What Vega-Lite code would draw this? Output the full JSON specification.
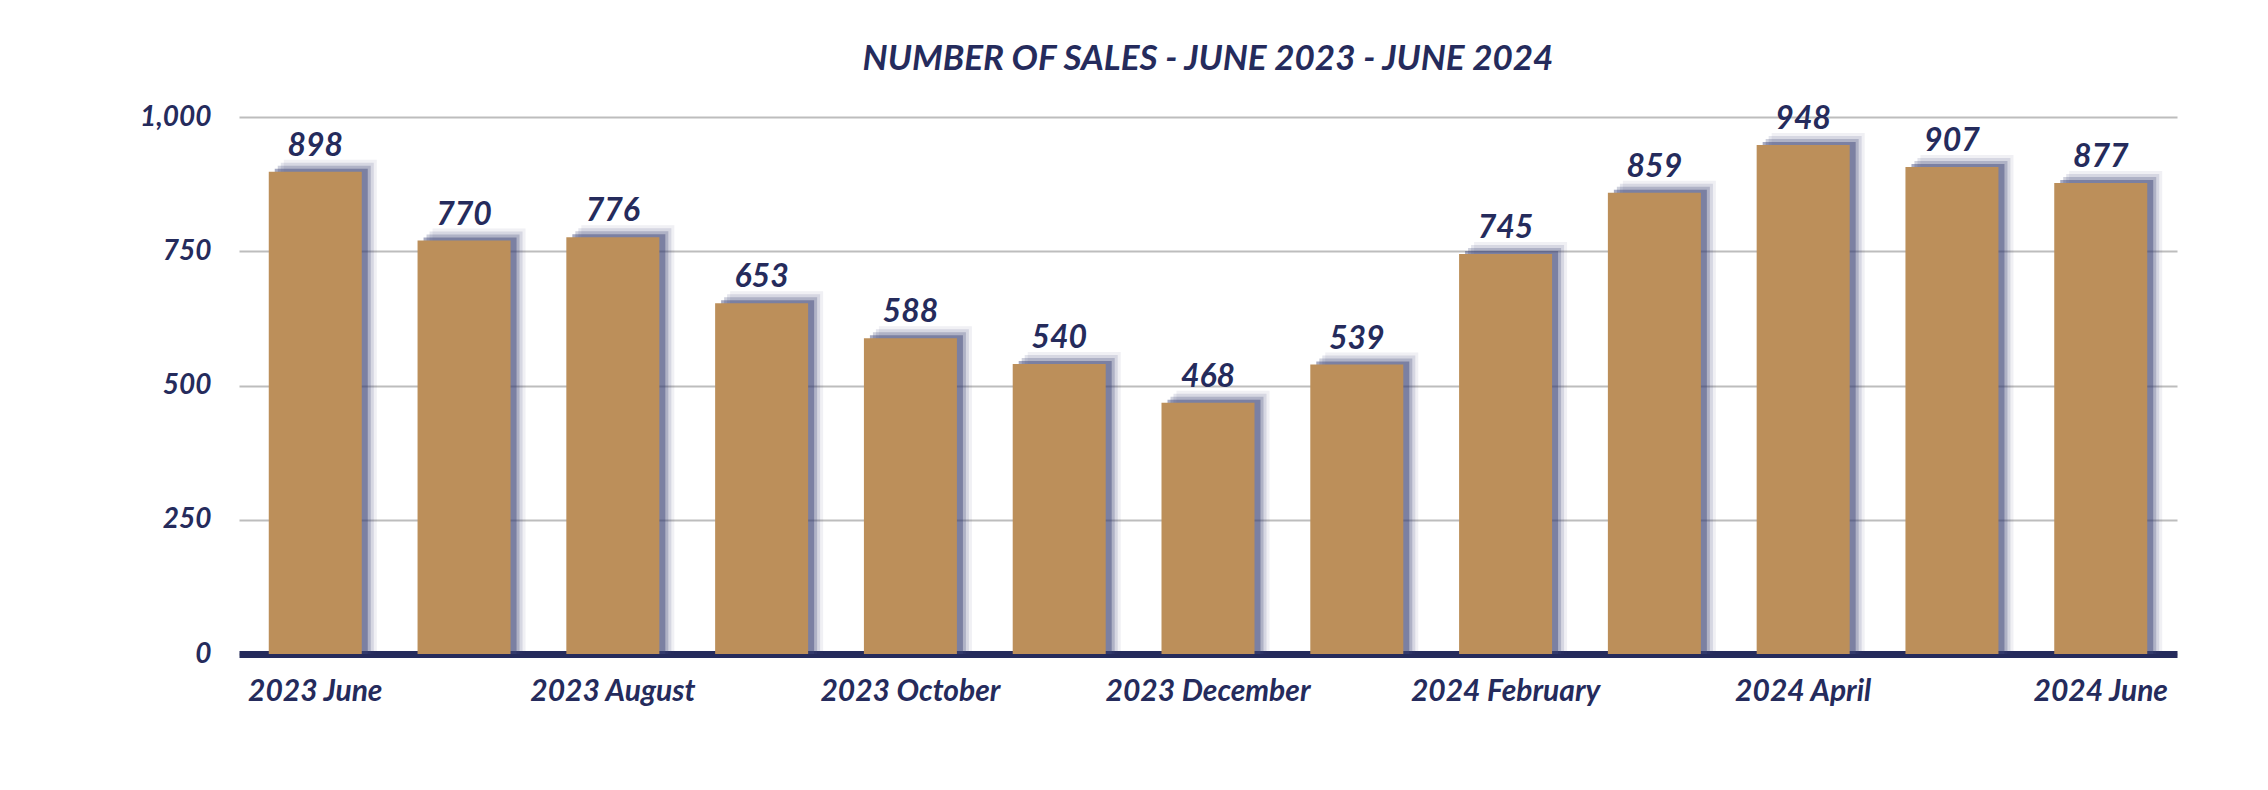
{
  "$schema": "https://vega.github.io/schema/vega-lite/v6.json",
  "width": 1938,
  "height": 537,
  "autosize": {"type": "none"},
  "padding": {"left": 239, "top": 117, "right": 91, "bottom": 136},
  "background": "white",
  "config": {
    "view": {"stroke": null},
    "font": "Lato"
  },
  "title": {
    "text": "NUMBER OF SALES - JUNE 2023 - JUNE 2024",
    "anchor": "middle",
    "font": "Lato",
    "fontSize": 35,
    "fontWeight": "bold",
    "fontStyle": "italic",
    "color": "#252B5C",
    "offset": 26
  },
  "data": {
    "values": [
      {"month": "2023 June", "sales": 898},
      {"month": "2023 July", "sales": 770},
      {"month": "2023 August", "sales": 776},
      {"month": "2023 September", "sales": 653},
      {"month": "2023 October", "sales": 588},
      {"month": "2023 November", "sales": 540},
      {"month": "2023 December", "sales": 468},
      {"month": "2024 January", "sales": 539},
      {"month": "2024 February", "sales": 745},
      {"month": "2024 March", "sales": 859},
      {"month": "2024 April", "sales": 948},
      {"month": "2024 May", "sales": 907},
      {"month": "2024 June", "sales": 877}
    ]
  },
  "encoding": {
    "x": {
      "field": "month",
      "type": "nominal",
      "sort": null,
      "scale": {"paddingInner": 0.375, "paddingOuter": 0.2},
      "axis": {
        "title": null,
        "values": ["2023 June", "2023 August", "2023 October", "2023 December", "2024 February", "2024 April", "2024 June"],
        "labelAngle": 0,
        "labelFont": "Lato",
        "labelFontSize": 30,
        "labelFontWeight": "bold",
        "labelFontStyle": "italic",
        "labelColor": "#252B5C",
        "labelPadding": 22,
        "labelLimit": 500,
        "labelOverlap": false,
        "ticks": false,
        "domainColor": "#252B5C",
        "domainWidth": 7,
        "grid": false
      }
    },
    "y": {
      "field": "sales",
      "type": "quantitative",
      "scale": {"domain": [0, 1000], "nice": false},
      "axis": {
        "title": null,
        "values": [0, 250, 500, 750, 1000],
        "format": ",d",
        "labelFont": "Lato",
        "labelFontSize": 28,
        "labelFontWeight": "bold",
        "labelFontStyle": "italic",
        "labelColor": "#252B5C",
        "labelPadding": 28,
        "ticks": false,
        "domain": false,
        "grid": true,
        "gridColor": "#BDBDBD",
        "gridWidth": 2
      }
    }
  },
  "layer": [
    {
      "mark": {"type": "bar", "color": "#3B4275", "opacity": 0.08, "xOffset": 15, "yOffset": -12, "y2Offset": 0},
      "encoding": {"y2": {"datum": 0}}
    },
    {
      "mark": {"type": "bar", "color": "#3B4275", "opacity": 0.14, "xOffset": 12, "yOffset": -9, "y2Offset": 0},
      "encoding": {"y2": {"datum": 0}}
    },
    {
      "mark": {"type": "bar", "color": "#3B4275", "opacity": 0.25, "xOffset": 9, "yOffset": -6, "y2Offset": 0},
      "encoding": {"y2": {"datum": 0}}
    },
    {
      "mark": {"type": "bar", "color": "#3B4275", "opacity": 0.45, "xOffset": 6, "yOffset": -3, "y2Offset": 0},
      "encoding": {"y2": {"datum": 0}}
    },
    {
      "mark": {"type": "bar", "color": "#BC8F5A"},
      "encoding": {"y2": {"datum": 0}}
    },
    {
      "mark": {
        "type": "text",
        "font": "Lato",
        "fontSize": 32,
        "fontWeight": "bold",
        "fontStyle": "italic",
        "color": "#252B5C",
        "baseline": "alphabetic",
        "dy": -16
      },
      "encoding": {"text": {"field": "sales", "type": "quantitative"}}
    }
  ]
}
